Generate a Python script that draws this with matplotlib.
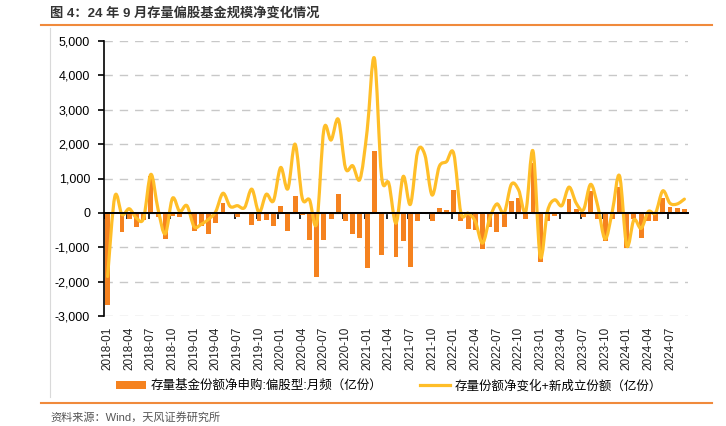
import matplotlib
matplotlib.use("Agg")
import matplotlib.pyplot as plt
import numpy as np
from matplotlib.path import Path
from matplotlib.patches import PathPatch, Patch
from matplotlib.lines import Line2D
from matplotlib.ticker import FuncFormatter

plt.rcParams['font.family'] = ['Liberation Sans', 'Noto Sans CJK SC', 'DejaVu Sans']

# ---- data ----
months = [f"{y}-{m:02d}" for y in range(2018, 2025) for m in range(1, 13)][:81]

net_sub = [-2670, -30, -570, -185, -415, -220, 1060, -125, -755, -105, -125, -40,
           -530, -380, -620, -280, 290, -40, -115, 10, -340, -230, -200, -370,
           200, -530, 500, -70, -785, -1870, -785, -185, 540, -250, -600, -720,
           -1590, 1800, -1230, 40, -1270, -830, -1570, -230, 40, -230, 135, 90,
           660, -230, -465, -490, -1050, -400, -560, -415, 360, 425, -175, 1460,
           -1430, -250, -105, -20, 400, 125, -115, 640, -165, -830, -185, 750,
           -1010, -185, -720, -230, -230, 425, 175, 145, 105]

net_change = [-1850, 475, -50, 120, -150, -150, 1120, 100, -610, 425, 40, 210,
              -400, -330, -185, 40, 570, 185, 210, 155, 690, 10, 540, 350,
              1320, 700, 2000, 425, 380, -300, 2430, 2120, 2720, 1300, 1370, 980,
              2400, 4500, 1060, 860, -300, 1060, 250, 1780, 1690, 520, 1350, 1490,
              1730, 0, -10, -250, -880, -150, 260, 0, 830, 670, 40, 1800,
              -1270, 40, 380, 210, 750, 280, 90, 830, 185, -760, 40, 1080,
              -950, -200, -450, 40, 0, 640, 280, 260, 400]

label_bar = "存量基金份额净申购:偏股型:月频（亿份）"
label_line = "存量份额净变化+新成立份额（亿份）"
title = "图 4：24 年 9 月存量偏股基金规模净变化情况"
source = "资料来源：Wind，天风证券研究所"

bar_color = "#F5821F"
line_color = "#FFBE28"
orange_rule = "#F08A3C"

W, H = 726, 426
fig = plt.figure(figsize=(W / 100, H / 100), dpi=100)
ax = fig.add_axes([104 / W, 1 - 316 / H, (688 - 104) / W, (316 - 41) / H])

x = np.arange(len(months))
ax.bar(x, net_sub, width=0.68, color=bar_color, zorder=2)

# smooth curve (Catmull-Rom rendered as cubic Bezier through the data points)
pts = np.column_stack([x, np.asarray(net_change, dtype=float)])
verts = [pts[0]]
codes = [Path.MOVETO]
n = len(pts)
for i in range(n - 1):
    p0 = pts[i - 1] if i > 0 else pts[i]
    p1 = pts[i]
    p2 = pts[i + 1]
    p3 = pts[i + 2] if i + 2 < n else pts[i + 1]
    c1 = p1 + (p2 - p0) / 6.0
    c2 = p2 - (p3 - p1) / 6.0
    verts += [c1, c2, p2]
    codes += [Path.CURVE4] * 3
path = Path(verts, codes)
ax.add_patch(PathPatch(path, fill=False, edgecolor=line_color, lw=2.3, zorder=4,
                       capstyle='round', joinstyle='round'))

ax.set_xlim(-0.5, len(months) - 0.5)
ax.set_ylim(-3000, 5000)
ax.set_yticks(range(-3000, 5001, 1000))
ax.yaxis.set_major_formatter(FuncFormatter(lambda v, p: f"{int(v):,}"))
ax.grid(axis='y', color='#C8C8C8', linestyle=(0, (6, 5)), linewidth=1.0, zorder=0)
ax.set_axisbelow(True)

for s in ['top', 'right', 'bottom']:
    ax.spines[s].set_visible(False)
ax.spines['left'].set_color('black')
ax.spines['left'].set_linewidth(1.2)
ax.tick_params(axis='y', direction='out', length=4, width=1.2, labelsize=9, colors='black', pad=6)

ax.set_xticks(x[::3])
ax.set_xticklabels(months[::3], rotation=90, fontsize=8.5)
ax.tick_params(axis='x', length=0, pad=8, colors='#222222')

# zero axis with tick marks
sec = ax.secondary_xaxis(3000 / 8000)
sec.spines['bottom'].set_color('black')
sec.spines['bottom'].set_linewidth(1.4)
sec.set_xticks(x[::3] - 0.3)
sec.set_xticklabels([])
sec.tick_params(axis='x', direction='out', length=4, width=1.2, colors='black')
ax.plot([-0.5, len(months) - 0.5], [0, 0], color='black', lw=1.4, zorder=5, solid_capstyle='butt')

# legend
h1 = Patch(facecolor=bar_color, edgecolor='none')
h2 = Line2D([0], [0], color=line_color, lw=2.3)
fig.legend([h1, h2], [label_bar, label_line], loc='center', bbox_to_anchor=(389 / W, 1 - 386 / H),
           ncol=2, frameon=False, fontsize=9, handlelength=2.4, handleheight=0.55,
           columnspacing=3.0, handletextpad=0.35, borderpad=0)

# title, rules, source
fig.text(50 / W, 1 - 13 / H, title, fontsize=9.5, fontweight='bold', color='#333333', va='center', ha='left')
fig.add_artist(Line2D([41 / W, 712 / W], [1 - 25 / H, 1 - 25 / H], color=orange_rule, lw=1.5))
fig.add_artist(Line2D([41 / W, 712 / W], [1 - 402.5 / H, 1 - 402.5 / H], color=orange_rule, lw=1.5))
fig.add_artist(Line2D([50.5 / W, 50.5 / W], [1 - 28 / H, 1 - 397 / H], color='#D9D9D9', lw=0.8))
fig.text(50 / W, 1 - 417 / H, source, fontsize=8, color='#555555', va='center', ha='left')

fig.savefig("out.png", dpi=100)
